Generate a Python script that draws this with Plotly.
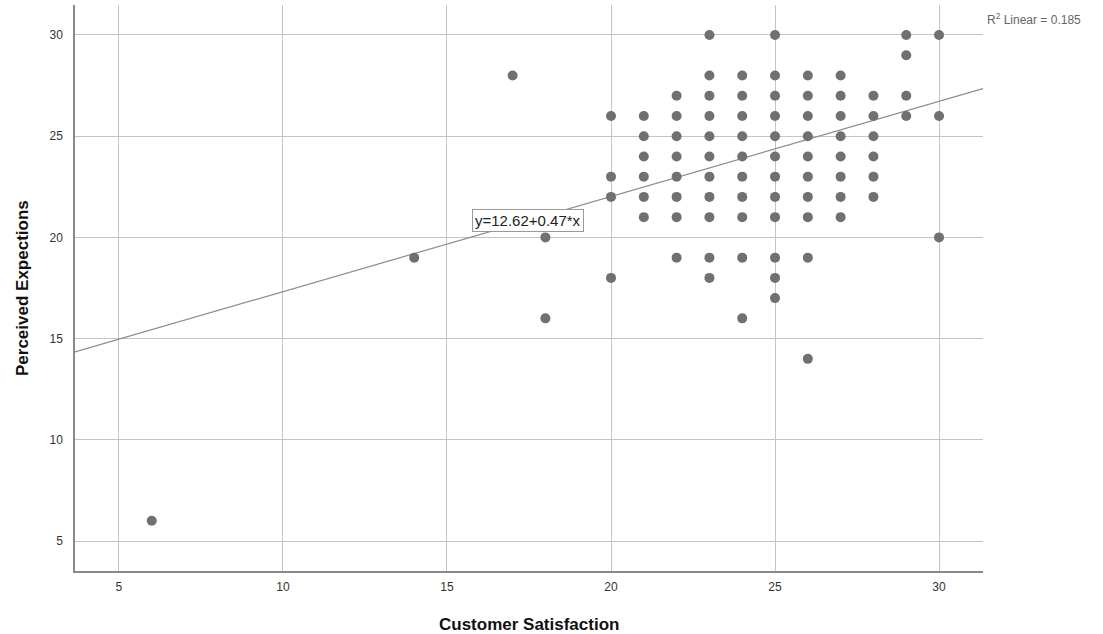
import plotly.graph_objects as go

# Data (Customer Satisfaction vs Perceived Expections)
columns = {
    6: [6],
    14: [19],
    17: [28],
    18: [20, 16],
    20: [26, 23, 22, 18],
    21: [26, 25, 24, 23, 22, 21],
    22: [27, 26, 25, 24, 23, 22, 21, 19],
    23: [30, 28, 27, 26, 25, 24, 23, 22, 21, 19, 18],
    24: [28, 27, 26, 25, 24, 23, 22, 21, 19, 16],
    25: [30, 28, 27, 26, 25, 24, 23, 22, 21, 19, 18, 17],
    26: [28, 27, 26, 25, 24, 23, 22, 21, 19, 14],
    27: [28, 27, 26, 25, 24, 23, 22, 21],
    28: [27, 26, 25, 24, 23, 22],
    29: [30, 29, 27, 26],
    30: [30, 26, 20],
}
intercept = 12.62
slope = 0.47
r2 = 0.185
x_ticks = [5, 10, 15, 20, 25, 30]
y_ticks = [5, 10, 15, 20, 25, 30]
x_range = [3.66, 31.34]
y_range = [3.52, 31.48]
x_title = "Customer Satisfaction"
y_title = "Perceived Expections"

xs, ys = [], []
for cx, vals in columns.items():
    for v in vals:
        xs.append(cx)
        ys.append(v)

font_family = "Arial, Liberation Sans, sans-serif"
fig = go.Figure()

line_x = [x_range[0], x_range[1]]
line_y = [intercept + slope * v for v in line_x]
fig.add_trace(go.Scatter(x=line_x, y=line_y, mode="lines",
                         line=dict(color="#8c8c8c", width=1.2),
                         hoverinfo="skip", showlegend=False))
fig.add_trace(go.Scatter(x=xs, y=ys, mode="markers",
                         marker=dict(color="#707070", size=10, line=dict(width=0)),
                         showlegend=False))

fig.add_annotation(x=17.47, y=20.81, xref="x", yref="y",
                   text=f"y={intercept:.2f}+{slope:.2f}*x", showarrow=False,
                   font=dict(family=font_family, size=15, color="#222222"),
                   bgcolor="white", bordercolor="#999999", borderwidth=1, borderpad=2)
fig.add_annotation(x=1.0, y=1.0, xref="paper", yref="paper",
                   xanchor="left", yanchor="top", xshift=2, yshift=-4,
                   text=f"R<sup>2</sup> Linear = {r2:.3f}", showarrow=False,
                   font=dict(family=font_family, size=12, color="#666666"))
fig.add_annotation(x=0.5, y=0, xref="paper", yref="paper",
                   xanchor="center", yanchor="middle", yshift=-53,
                   text=f"<b>{x_title}</b>", showarrow=False,
                   font=dict(family=font_family, size=17, color="#111111"))
fig.add_annotation(x=0, y=0.5, xref="paper", yref="paper",
                   xanchor="center", yanchor="middle", xshift=-53, textangle=-90,
                   text=f"<b>{y_title}</b>", showarrow=False,
                   font=dict(family=font_family, size=17, color="#111111"))

axis_common = dict(showgrid=True, gridcolor="#c4c4c4", gridwidth=1,
                   showline=True, linecolor="#8a8a8a", linewidth=1.5,
                   zeroline=False, ticks="", automargin=False,
                   tickfont=dict(family=font_family, size=12, color="#333333"))

fig.update_layout(
    width=1103, height=634,
    margin=dict(l=75, r=120, t=5, b=63),
    plot_bgcolor="white", paper_bgcolor="white",
    xaxis=dict(range=x_range, tickvals=x_ticks, ticklabelstandoff=4, **axis_common),
    yaxis=dict(range=y_range, tickvals=y_ticks, ticklabelstandoff=8, **axis_common),
)

fig.write_html("out.html", config={"displayModeBar": False},
               post_script="document.body.style.margin='0';document.body.style.overflow='hidden';")
